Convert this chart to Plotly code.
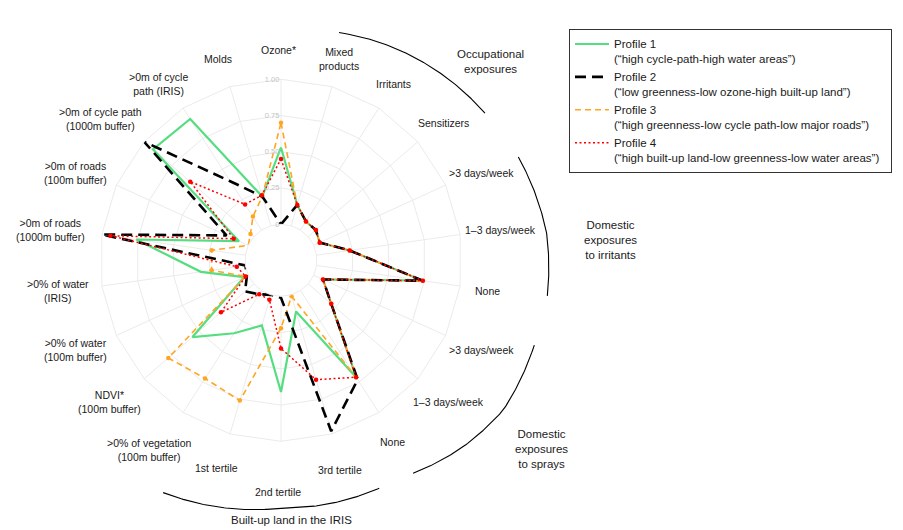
import numpy as np
import plotly.graph_objects as go

# ---------------- data ----------------
categories = [
    "Ozone*", "Mixed<br>products", "Irritants", "Sensitizers",
    ">3 days/week", "1–3 days/week", "None",
    ">3 days/week ", "1–3 days/week ", "None ",
    "3rd tertile", "2nd tertile", "1st tertile",
    ">0% of vegetation<br>(100m buffer)", "NDVI*<br>(100m buffer)",
    ">0% of water<br>(100m buffer)", ">0% of water<br>(IRIS)",
    ">0m of roads<br>(1000m buffer)", ">0m of roads<br>(100m buffer)",
    ">0m of cycle path<br>(1000m buffer)", ">0m of cycle<br>path (IRIS)", "Molds",
]

profile1 = [0.53, 0.15, 0.07, 0.07, 0.045, 0.23, 0.74, 0.07, 0.21, 0.71, 0.12,
            0.66, 0.22, 0.35, 0.56, 0.03, 0.31, 0.76, 0.07, 0.92, 0.91, 0.21]
profile2 = [0.00, 0.15, 0.07, 0.07, 0.045, 0.23, 0.74, 0.07, 0.21, 0.73, 0.98,
            0.01, 0.00, 0.03, 0.08, 0.01, 0.00, 1.00, 0.165, 1.00, 0.40, 0.21]
profile3 = [0.70, 0.15, 0.07, 0.07, 0.045, 0.23, 0.74, 0.07, 0.21, 0.71, 0.01,
            0.22, 0.76, 0.72, 0.78, 0.02, 0.235, 0.235, 0.00, 0.03, 0.11, 0.21]
profile4 = [0.45, 0.15, 0.07, 0.07, 0.045, 0.23, 0.74, 0.07, 0.21, 0.71, 0.61,
            0.36, 0.035, 0.03, 0.30, 0.02, 0.06, 0.94, 0.11, 0.58, 0.21, 0.22]

profile_names = [
    "Profile 1<br>(“high cycle-path-high water areas”)",
    "Profile 2<br>(“low greenness-low ozone-high built-up land”)",
    "Profile 3<br>(“high greenness-low cycle path-low major roads”)",
    "Profile 4<br>(“high built-up land-low greenness-low water areas”)\u00a0\u00a0",
]

radial_tickvals = [0, 0.25, 0.5, 0.75, 1.0]
radial_ticktext = ["0", "0.25", "0.50", "0.75", "1.00"]

group_labels = ["Occupational<br>exposures", "Domestic<br>exposures<br>to irritants",
                "Domestic<br>exposures<br>to sprays", "Built-up land in the IRIS"]

# ---------------- layout geometry (pixels) ----------------
W, H = 903, 530
CX, CY, R = 281, 260.3, 181
HOLE = 36 / R
FONT = "Liberation Sans, Arial, Helvetica, sans-serif"
LABEL_SIZE = 10.5
LABEL_R = 204          # anchor radius for category labels (px)
HJ = 0.6               # horizontal justification strength
LABEL_DX = -3          # small global horizontal offset of category labels
label_nudge = {"2nd tertile": 16, ">0% of vegetation<br>(100m buffer)": 9,
               ">0m of cycle path<br>(1000m buffer)": 6, ">0m of roads<br>(1000m buffer)": 5,
               "3rd tertile": 3}

dom_x = [(CX - R) / W, (CX + R) / W]
dom_y = [(H - CY - R) / H, (H - CY + R) / H]

# decorative group arcs: (angle deg, radius px) anchors
arcs = [
    [(75.7, 235), (35.8, 251.5)],
    [(23.5, 258.8), (5.8, 267), (-7.6, 268.7)],
    [(-18.5, 267.1), (-34, 268), (-45.6, 260.7), (-58.2, 250.7)],
    [(-116.9, 260.5), (-90.2, 248), (-66.7, 248.3)],
]
group_label_pos = [(490.7, 61), (610, 240), (541, 449), (291, 520)]

# Arial / Liberation Sans advance widths (per 1000 em) for text width estimates
AW = {" ": 278, "%": 889, "(": 333, ")": 333, "*": 389, "-": 333, "/": 278, ">": 584,
      "–": 556, "I": 278, "R": 722, "S": 667, "N": 722, "D": 722, "V": 667, "M": 833,
      "O": 778, "i": 222, "l": 222, "j": 222, "f": 278, "t": 278, "r": 333, "m": 833,
      "w": 722, "c": 500, "k": 500, "s": 500, "v": 500, "x": 500, "y": 500, "z": 500}


def text_width(s, size):
    return sum(AW.get(ch, 556) for ch in s) * size / 1000.0


fig = go.Figure()

styles = [
    dict(color="#55DE80", width=2.2, dash="solid"),
    dict(color="#000000", width=2.6, dash="11px,6px"),
    dict(color="#FFA522", width=1.6, dash="6px,4px"),
    dict(color="#FF0000", width=1.5, dash="2px,2.5px"),
]
profiles = [profile1, profile2, profile3, profile4]
draw_order = [0, 2, 1, 3]
theta_closed = categories + [categories[0]]

for i in draw_order:
    vals = profiles[i]
    fig.add_trace(go.Scatterpolar(
        r=vals + [vals[0]], theta=theta_closed, mode="lines",
        line=styles[i], name=profile_names[i], legendrank=i + 1,
        hoverinfo="skip", subplot="polar",
    ))
    if i in (2, 3):
        fig.add_trace(go.Scatterpolar(
            r=vals, theta=categories, mode="markers",
            marker=dict(color=styles[i]["color"], size=4.5),
            showlegend=False, hoverinfo="skip", subplot="polar",
        ))

# arcs on hidden pixel-space cartesian overlay
for anchors in arcs:
    pts = sorted(anchors)
    a = np.array([p[0] for p in pts])
    rr = np.array([p[1] for p in pts])
    t = np.linspace(a[0], a[-1], 120)
    rt = np.interp(t, a, rr)
    x = CX + rt * np.cos(np.radians(t))
    y = CY - rt * np.sin(np.radians(t))
    fig.add_trace(go.Scatter(x=x, y=y, mode="lines", line=dict(color="black", width=1.1),
                             showlegend=False, hoverinfo="skip"))

for txt, (gx, gy) in zip(group_labels, group_label_pos):
    fig.add_annotation(x=gx, y=gy, xref="x", yref="y", text=txt, showarrow=False,
                       font=dict(family=FONT, size=11.5, color="#1a1a1a"),
                       xanchor="center", yanchor="middle", align="center")

# category labels (ggplot-like justification around the radar)
N = len(categories)
for k, lab in enumerate(categories):
    th = np.radians(k * 360.0 / N)
    s, c = np.sin(th), np.cos(th)
    text = lab.strip()
    lines = text.split("<br>")
    w = max(text_width(ln, LABEL_SIZE) for ln in lines)
    rl = LABEL_R + label_nudge.get(text, 0)
    px = CX + rl * s
    py = CY - rl * c
    cx = px + HJ * s * w / 2 + LABEL_DX
    cy = py - c * (6 if c > 0 else 12)
    fig.add_annotation(x=cx, y=cy, xref="x", yref="y", text=text, showarrow=False,
                       font=dict(family=FONT, size=LABEL_SIZE, color="#1a1a1a"),
                       xanchor="center", yanchor="middle", align="center")

fig.update_layout(
    width=W, height=H, autosize=False,
    margin=dict(l=0, r=0, t=0, b=0),
    paper_bgcolor="white", plot_bgcolor="rgba(0,0,0,0)",
    font=dict(family=FONT, size=10.5, color="#1a1a1a"),
    xaxis=dict(range=[0, W], visible=False, fixedrange=True, domain=[0, 1]),
    yaxis=dict(range=[H, 0], visible=False, fixedrange=True, domain=[0, 1]),
    polar=dict(
        domain=dict(x=dom_x, y=dom_y),
        hole=HOLE,
        bgcolor="rgba(0,0,0,0)",
        gridshape="linear",
        radialaxis=dict(
            range=[0, 1], angle=90, side="counterclockwise",
            tickvals=radial_tickvals, ticktext=radial_ticktext,
            tickfont=dict(size=7.5, color="#c4c4c4"),
            showline=False, ticks="", gridcolor="#ebebeb", gridwidth=1,
            tickangle=90,
        ),
        angularaxis=dict(
            type="category", categoryorder="array", categoryarray=categories,
            direction="clockwise", rotation=90,
            ticks="", showticklabels=False,
            showline=True, linecolor="#ebebeb", linewidth=1,
            gridcolor="#ebebeb", gridwidth=1,
        ),
    ),
    legend=dict(
        x=569 / W, y=1 - 29 / H, xanchor="left", yanchor="top",
        bordercolor="#333333", borderwidth=1, bgcolor="white",
        font=dict(size=11.5, color="#1a1a1a"), valign="top",
        tracegroupgap=0, itemwidth=34,
    ),
    showlegend=True,
)

fig.write_html("out.html", config={"displayModeBar": False},
               post_script="document.body.style.margin='0px';document.body.style.padding='0px';")
